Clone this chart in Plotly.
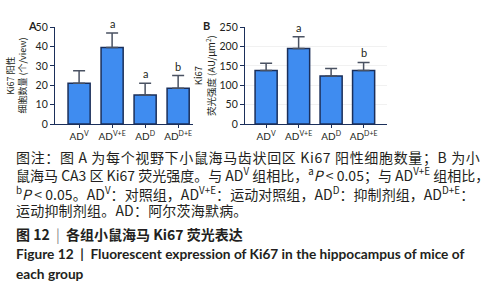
import plotly.graph_objects as go

groups = ["AD<sup>V</sup>", "AD<sup>V+E</sup>", "AD<sup>D</sup>", "AD<sup>D+E</sup>"]
cells_mean = [21, 39.5, 15, 18.5]
cells_err = [6.5, 7.5, 6, 6.5]
cells_sig = ["", "a", "a", "b"]
fluor_mean = [138, 195, 124, 138]
fluor_err = [19, 30, 19, 21]
fluor_sig = ["", "a", "", "b"]

BAR = "#3f8cf0"
EDGE = "#1b2f5a"
ERR = "#4a5262"
TXT = "#231f20"
FONT = "Lato, 'Noto Sans CJK SC', sans-serif"
CJK = "'Noto Sans CJK SC', Lato, sans-serif"

fig = go.Figure()
fig.add_trace(go.Bar(x=groups, y=cells_mean, xaxis="x", yaxis="y", width=0.67,
                     marker=dict(color=BAR, line=dict(color=EDGE, width=1.5)),
                     error_y=dict(type="data", array=cells_err, arrayminus=[0]*4, symmetric=False,
                                  color=ERR, thickness=1.5, width=6)))
fig.add_trace(go.Bar(x=groups, y=fluor_mean, xaxis="x2", yaxis="y2", width=0.68,
                     marker=dict(color=BAR, line=dict(color=EDGE, width=1.5)),
                     error_y=dict(type="data", array=fluor_err, arrayminus=[0]*4, symmetric=False,
                                  color=ERR, thickness=1.5, width=6)))

ann = []
for g, m, e, s in zip(groups, cells_mean, cells_err, cells_sig):
    if s:
        ann.append(dict(x=g, y=m + e, xref="x", yref="y", text=s, showarrow=False,
                        yanchor="bottom", yshift=1, font=dict(size=11, color=TXT, family=FONT)))
for g, m, e, s in zip(groups, fluor_mean, fluor_err, fluor_sig):
    if s:
        ann.append(dict(x=g, y=m + e, xref="x2", yref="y2", text=s, showarrow=False,
                        yanchor="bottom", yshift=1, font=dict(size=11, color=TXT, family=FONT)))

ann.append(dict(x=26/489, y=1-11/300, xref="paper", yref="paper", text="<b>A</b>", showarrow=False,
                font=dict(size=11, color=TXT, family=FONT)))
ann.append(dict(x=206/489, y=1-11/300, xref="paper", yref="paper", text="<b>B</b>", showarrow=False,
                font=dict(size=11, color=TXT, family=FONT)))

LS = "letter-spacing:{}px"
caption = [
    ("图注：图 A 为每个视野下小鼠海马齿状回区 Ki67 阳性细胞数量；B 为小", 0.65),
    ("鼠海马 CA3 区 Ki67 荧光强度。与 AD<sup>V</sup> 组相比，<sup>a</sup><i>P</i> < 0.05；与 AD<sup>V+E</sup> 组相比，", 0),
    ("<sup>b</sup><i>P</i> < 0.05。AD<sup>V</sup>：对照组，AD<sup>V+E</sup>：运动对照组，AD<sup>D</sup>：抑制剂组，AD<sup>D+E</sup>：", 0.05),
    ("运动抑制剂组。AD：阿尔茨海默病。", 0.2),
]
ys = [157, 176, 195, 213]
for (t, ls), yy in zip(caption, ys):
    ann.append(dict(x=14/489, y=1-yy/300, xref="paper", yref="paper",
                    text="<span style='%s'>%s</span>" % (LS.format(ls), t), showarrow=False,
                    xanchor="left", yanchor="middle", font=dict(size=14, color=TXT, family=CJK)))

ann.append(dict(x=14/489, y=1-237/300, xref="paper", yref="paper",
                text="<b>图 12</b>  <span style='color:#888'>|</span>  <b>各组小鼠海马 Ki67 荧光表达</b>",
                showarrow=False, xanchor="left", yanchor="middle",
                font=dict(size=14, color=TXT, family=CJK)))
ann.append(dict(x=14/489, y=1-258/300, xref="paper", yref="paper",
                text="<b>Figure 12  |  Fluorescent expression of Ki67 in the hippocampus of mice of</b>",
                showarrow=False, xanchor="left", yanchor="middle",
                font=dict(size=13.7, color=TXT, family=FONT)))
ann.append(dict(x=14/489, y=1-279/300, xref="paper", yref="paper",
                text="<b>each group</b>", showarrow=False, xanchor="left", yanchor="middle",
                font=dict(size=13.7, color=TXT, family=FONT)))

axis_common = dict(showline=True, linecolor=EDGE, linewidth=1.3, ticks="outside", ticklen=4,
                   tickcolor=EDGE, tickfont=dict(size=10.5, color=TXT, family=FONT))
ytop = 1 - 22/300
ybot = 1 - 123/300

fig.update_layout(
    width=489, height=300, margin=dict(l=0, r=0, t=0, b=0),
    paper_bgcolor="white", plot_bgcolor="white", showlegend=False,
    font=dict(family=FONT, color=TXT),
    xaxis=dict(domain=[55/489, 193/489], range=[-0.73, 3.45], anchor="y", ticklen=3,
               showline=True, linecolor=EDGE, linewidth=1.3, ticks="outside", tickcolor=EDGE,
               tickfont=dict(size=10, color=TXT, family=FONT)),
    yaxis=dict(domain=[ybot, ytop], range=[0, 50], dtick=10, anchor="x", showgrid=False,
               title=dict(text="Ki67 阳性<br>细胞数量 (个/view)", standoff=7,
                          font=dict(size=9, color=TXT, family=CJK)), **axis_common),
    xaxis2=dict(domain=[245/489, 387/489], range=[-0.65, 3.72], anchor="y2", ticklen=3,
                showline=True, linecolor=EDGE, linewidth=1.3, ticks="outside", tickcolor=EDGE,
                tickfont=dict(size=10, color=TXT, family=FONT)),
    yaxis2=dict(domain=[ybot, ytop], range=[0, 250], dtick=50, anchor="x2", showgrid=True,
                gridcolor="#f1f1f1", gridwidth=1,
                title=dict(text="Ki67<br>荧光强度 (AU/μm<sup>2</sup>)", standoff=2,
                           font=dict(size=9.5, color=TXT, family=CJK)), **axis_common),
    annotations=ann,
    bargap=0.3,
)

fig.write_html("out.html", config={"displayModeBar": False},
               post_script="document.body.style.margin='0';document.body.style.overflow='hidden';")
